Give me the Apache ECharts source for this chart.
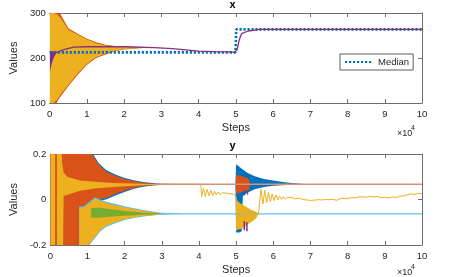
<!DOCTYPE html>
<html><head><meta charset="utf-8">
<script src="https://cdn.jsdelivr.net/npm/echarts@6/dist/echarts.min.js"></script>
<style>html,body{margin:0;padding:0;background:#fff}#c{width:449px;height:277px}</style>
</head><body><div id="c"></div>
<script>
// ---------- tick labels / axes (steps in units of 1e4) ----------
const xTicks = [0,1,2,3,4,5,6,7,8,9,10];
const topYTicks = [100, 200, 300];
const botYTicks = [-0.2, 0, 0.2];

// ---------- TOP PLOT "x" ----------
const medianX = [[0,212.6],[4.99,212.6],[5.01,263.7],[10,263.7]];
const topOrangeSteps = [0, 0.1, 0.2, 0.27, 0.5, 0.75, 1.0, 1.25, 1.5, 1.75, 2.0, 2.5, 3.0];
const topOrangeUpper = [420, 340, 305, 300, 266, 254, 243, 235, 229.5, 226.5, 225.3, 224.5, 223.5];
const topOrangeLower = [-20, 60, 103, 112, 137, 163, 185, 200, 208, 215, 219, 222.5, 223];
const topYellowSteps = [0, 0.06, 0.1, 0.2, 0.3, 0.5, 0.75, 1.0, 1.25, 1.5, 1.75, 2.0, 2.5];
const topYellowUpper = [420, 420, 300, 297, 288, 263, 251.5, 241, 233, 228, 225.5, 224.6, 224];
const topYellowLower = [-20, -20, 100, 107, 120, 140, 166, 187.5, 202, 210, 216, 219.8, 222.5];
const topPurpleSteps = [0, 0.05, 0.1, 0.15, 0.2];
const topPurpleUpper = [214, 214, 214, 213.5, 213];
const topPurpleLower = [168, 186, 199, 207, 212];
const topPurpleLine = [[0,213],[0.2,213],[0.4,219],[0.65,224],[1,225],[2,225],[2.8,223],[3.3,221],[4,215.5],[4.4,214],[4.97,213],[5.03,218],[5.09,240],[5.15,254],[5.33,260],[5.64,263.5],[10,263.5]];

// ---------- BOTTOM PLOT "y" ----------
const botBlueSteps = [0, 1.0, 1.15, 1.3, 1.5, 1.75, 2.0, 2.25, 2.5, 2.75, 3.0, 3.5];
const botBlueUpper = [0.6, 0.24, 0.2, 0.16, 0.13, 0.11, 0.095, 0.085, 0.077, 0.072, 0.069, 0.068];
const botBlueLower = [-0.6, -0.3, -0.05, -0.005, 0.0, 0.018, 0.033, 0.047, 0.056, 0.061, 0.064, 0.066];
const botOrangeUpper = [0.6, 0.232, 0.193, 0.154, 0.123, 0.104, 0.09, 0.081, 0.074, 0.07, 0.068, 0.067];
const botOrangeLower = [-0.6, -0.29, -0.043, 0.001, 0.006, 0.024, 0.038, 0.051, 0.059, 0.063, 0.066, 0.067];
const botYStripSteps = [0, 0.13];
const botYStripUpper = [0.6, 0.6];
const botYStripLower = [-0.6, -0.6];
const botYWedgeSteps = [0.18, 0.32, 0.36, 0.45, 0.8, 1.2, 1.7, 2.2, 2.7, 3.2];
const botYWedgeUpper = [0.6, 0.16, 0.12, 0.1, 0.084, 0.078, 0.073, 0.07, 0.068, 0.067];
const botYWedgeLower = [-0.6, -0.6, 0.015, 0.02, 0.039, 0.048, 0.055, 0.06, 0.064, 0.066];
const botCyanSteps = [0.78, 0.9, 1.05, 1.2, 1.35, 1.5, 1.75, 2.0, 2.25, 2.5, 2.75, 3.0, 3.5];
const botCyanUpper = [-0.03, -0.03, -0.01, 0.01, 0.0, -0.01, -0.02, -0.03, -0.038, -0.046, -0.053, -0.058, -0.062];
const botCyanLower = [-0.6, -0.35, -0.2, -0.17, -0.14, -0.12, -0.104, -0.09, -0.081, -0.075, -0.07, -0.066, -0.063];
const botLYellowUpper = [-0.035, -0.035, -0.016, 0.003, -0.006, -0.015, -0.025, -0.034, -0.042, -0.049, -0.055, -0.06, -0.063];
const botLYellowLower = [-0.6, -0.345, -0.195, -0.165, -0.135, -0.115, -0.1, -0.087, -0.079, -0.073, -0.069, -0.065, -0.063];
const botGreenSteps = [1.1, 1.3, 1.5, 1.75, 2.0, 2.5, 3.0];
const botGreenUpper = [-0.038, -0.035, -0.04, -0.045, -0.05, -0.057, -0.062];
const botGreenLower = [-0.08, -0.08, -0.077, -0.074, -0.071, -0.067, -0.064];
const burstBlueSteps = [4.98, 5.0, 5.08, 5.15, 5.18, 5.3, 5.5, 5.75, 6.0, 6.25, 6.5, 6.8];
const burstBlueUpper = [0.067, 0.155, 0.145, 0.135, 0.132, 0.118, 0.102, 0.09, 0.083, 0.077, 0.073, 0.068];
const burstBlueLower = [0.067, -0.145, -0.145, -0.14, 0.015, 0.03, 0.045, 0.055, 0.06, 0.063, 0.065, 0.066];
const burstOrangeSteps = [4.99, 5.0, 5.1, 5.2, 5.3, 5.35, 5.37];
const burstOrangeUpper = [0.067, 0.108, 0.105, 0.1, 0.094, 0.088, 0.067];
const burstOrangeLower = [0.067, 0.028, 0.03, 0.035, 0.04, 0.045, 0.067];
const burstYellowSteps = [4.99, 5.0, 5.1, 5.2, 5.3, 5.4, 5.5, 5.56, 5.6];
const burstYellowUpper = [-0.063, 0.0, -0.015, -0.025, -0.035, -0.045, -0.052, -0.056, -0.063];
const burstYellowLower = [-0.063, -0.135, -0.13, -0.125, -0.11, -0.1, -0.088, -0.078, -0.063];
const burstPurpleA = [[5.22,-0.095],[5.22,-0.135]];
const burstPurpleB = [[5.29,-0.1],[5.29,-0.14]];
const burstPurpleC = [[5.23,0.045],[5.23,0.018]];
const burstPurpleD = [[5.31,0.04],[5.31,0.02]];
const upperLine = [[2.8,0.067],[10,0.067]];
const lowerLine = [[2.9,-0.063],[10,-0.063]];
const yellowLine = [[2.8,0.067],[4.05,0.067],[4.07,0.012],[4.12,0.05],[4.17,0.013],[4.22,0.045],[4.27,0.016],[4.32,0.04],[4.37,0.018],[4.42,0.036],[4.47,0.02],[4.52,0.033],[4.57,0.021],[4.62,0.03],[4.67,0.022],[4.72,0.028],[4.77,0.021],[4.82,0.026],[4.87,0.02],[4.92,0.024],[4.97,0.018],[5.0,0.015],[5.02,-0.063],[5.6,-0.063],[5.65,-0.06],[5.67,0.045],[5.72,-0.02],[5.77,0.04],[5.82,-0.015],[5.87,0.032],[5.92,-0.01],[5.97,0.025],[6.02,-0.005],[6.07,0.02],[6.12,-0.002],[6.17,0.015],[6.22,0.0],[6.27,0.012],[6.32,0.001],[6.37,0.01],[6.42,0.002],[6.5,0.008],[6.6,0.003],[6.7,0.006],[6.8,0.0],[6.9,-0.002],[7.0,-0.004],[7.1,-0.003],[7.2,-0.001],[7.3,-0.002],[7.4,0.0],[7.5,-0.001],[7.6,0.001],[7.7,-0.004],[7.8,0.004],[7.9,0.006],[8.0,0.004],[8.1,0.009],[8.2,0.007],[8.3,0.011],[8.4,0.012],[8.5,0.01],[8.6,0.014],[8.7,0.011],[8.8,0.013],[8.9,0.008],[9.0,0.01],[9.1,0.007],[9.2,0.011],[9.3,0.009],[9.4,0.014],[9.5,0.016],[9.6,0.02],[9.7,0.025],[9.8,0.022],[9.9,0.027],[10,0.024]];

// ---------- chart ----------
const FONT = '"Liberation Sans", Arial, Helvetica, sans-serif';
const AX = '#6e6e6e';
const TXT = '#262626';
const C = {blue:'#0072BD', orange:'#D95319', yellow:'#EDB120', purple:'#7E2F8E', green:'#77AC30', cyan:'#4DBEEE'};

// band drawn as a filled polygon between lower and upper, through the axes' scales
function band(steps, upper, lower, color, xi, yi) {
  return {
    type:'custom', xAxisIndex:xi, yAxisIndex:yi, silent:true, animation:false,
    data: steps.map((s,i)=>[s, lower[i], upper[i]]),
    encode:{x:0, y:[1,2]},
    renderItem: function(params, api) {
      if (params.dataIndexInside !== 0) return null;
      const n = params.dataInsideLength;
      const pts = [];
      for (let i = 0; i < n; i++) pts.push(api.coord([api.value(0,i), api.value(2,i)]));
      for (let i = n-1; i >= 0; i--) pts.push(api.coord([api.value(0,i), api.value(1,i)]));
      const cs = params.coordSys;
      return {
        type:'polygon', shape:{points:pts}, style:{fill:color, stroke:null},
        clipPath:{type:'rect', shape:{x:cs.x, y:cs.y, width:cs.width, height:cs.height}}
      };
    }
  };
}
function line(data, color, width, xi, yi, extra) {
  return Object.assign({type:'line', xAxisIndex:xi, yAxisIndex:yi, data:data, symbol:'none', showSymbol:false, silent:true, animation:false,
    lineStyle:{color:color, width:width}}, extra || {});
}
function xAxes(g) {
  const base = {gridIndex:g, type:'value', min:xTicks[0], max:xTicks[xTicks.length-1], interval:1,
    axisLine:{show:true, onZero:false, lineStyle:{color:AX, width:1}},
    axisTick:{show:true, inside:true, length:4, lineStyle:{color:AX}}, splitLine:{show:false}};
  return [
    Object.assign({}, base, {position:'bottom', axisLabel:{margin:6, fontSize:9.5, color:TXT, fontFamily:FONT},
      name:'Steps', nameLocation:'middle', nameGap:19, nameTextStyle:{fontSize:11, color:TXT, fontFamily:FONT}}),
    Object.assign({}, base, {position:'top', axisLabel:{show:false}})
  ];
}
function yAxes(g, ticks) {
  const base = {gridIndex:g, type:'value', min:ticks[0], max:ticks[ticks.length-1], interval:ticks[1]-ticks[0],
    axisLine:{show:true, onZero:false, lineStyle:{color:AX, width:1}},
    axisTick:{show:true, inside:true, length:4, lineStyle:{color:AX}}, splitLine:{show:false}};
  return [
    Object.assign({}, base, {position:'left', axisLabel:{margin:4, fontSize:9.5, color:TXT, fontFamily:FONT},
      name:'Values', nameLocation:'middle', nameGap:22, nameRotate:90, nameTextStyle:{fontSize:11, color:TXT, fontFamily:FONT}}),
    Object.assign({}, base, {position:'right', axisLabel:{show:false}})
  ];
}

const series = [];
// top
series.push(line(medianX, C.blue, 2.5, 0, 0, {name:'Median', lineStyle:{color:C.blue, width:2.6, type:[2.2,1.8]}}));
series.push(band(topOrangeSteps, topOrangeUpper, topOrangeLower, C.orange, 0, 0));
series.push(band(topYellowSteps, topYellowUpper, topYellowLower, C.yellow, 0, 0));
series.push(band(topPurpleSteps, topPurpleUpper, topPurpleLower, C.purple, 0, 0));
series.push(line(topPurpleLine, '#8a3177', 1.3, 0, 0));
// bottom
series.push(band(botBlueSteps, botBlueUpper, botBlueLower, C.blue, 2, 2));
series.push(band(botBlueSteps, botOrangeUpper, botOrangeLower, C.orange, 2, 2));
series.push(band(botYStripSteps, botYStripUpper, botYStripLower, C.yellow, 2, 2));
series.push(band(botYWedgeSteps, botYWedgeUpper, botYWedgeLower, C.yellow, 2, 2));
series.push(band(botCyanSteps, botCyanUpper, botCyanLower, C.cyan, 2, 2));
series.push(band(botCyanSteps, botLYellowUpper, botLYellowLower, C.yellow, 2, 2));
series.push(band(botGreenSteps, botGreenUpper, botGreenLower, C.green, 2, 2));
series.push(line(lowerLine, '#5BC2EC', 1.3, 2, 2));
series.push(band(burstBlueSteps, burstBlueUpper, burstBlueLower, C.blue, 2, 2));
series.push(band(burstOrangeSteps, burstOrangeUpper, burstOrangeLower, C.orange, 2, 2));
series.push(band(burstYellowSteps, burstYellowUpper, burstYellowLower, C.yellow, 2, 2));
series.push(line(burstPurpleA, C.purple, 1.5, 2, 2));
series.push(line(burstPurpleB, C.purple, 1.5, 2, 2));
series.push(line(burstPurpleC, C.purple, 1, 2, 2));
series.push(line(burstPurpleD, C.purple, 1, 2, 2));
series.push(line(yellowLine, C.yellow, 1, 2, 2));
series.push(line(upperLine, '#D8907A', 1.5, 2, 2));

const chart = echarts.init(document.getElementById('c'), null, {renderer:'canvas'});
chart.setOption({
  animation:false,
  backgroundColor:'#fff',
  grid:[{left:43, top:13, width:379, height:90}, {left:43, top:154, width:379, height:91}],
  xAxis:[...xAxes(0), ...xAxes(1)],
  yAxis:[...yAxes(0, topYTicks), ...yAxes(1, botYTicks)],
  title:[
    {text:'x', left:232.5, top:-1, textAlign:'center', padding:0, textStyle:{fontSize:11, fontWeight:'bold', color:'#000', fontFamily:FONT}},
    {text:'y', left:232.5, top:140, textAlign:'center', padding:0, textStyle:{fontSize:11, fontWeight:'bold', color:'#000', fontFamily:FONT}}
  ],
  legend:{data:['Median'], left:340, top:54, itemWidth:28, itemHeight:10, padding:[3,4,3,4],
    borderColor:'#333', borderWidth:0.8, backgroundColor:'#fff',
    itemStyle:{opacity:0},
    textStyle:{fontSize:9.5, color:TXT, fontFamily:FONT}},
  graphic:[
    {type:'text', left:397, top:129, style:{text:'×10', fontSize:9, fill:TXT, fontFamily:FONT}},
    {type:'text', left:411, top:125, style:{text:'4', fontSize:7, fill:TXT, fontFamily:FONT}},
    {type:'text', left:397, top:268, style:{text:'×10', fontSize:9, fill:TXT, fontFamily:FONT}},
    {type:'text', left:411, top:264, style:{text:'4', fontSize:7, fill:TXT, fontFamily:FONT}}
  ],
  series: series
});
</script></body></html>
